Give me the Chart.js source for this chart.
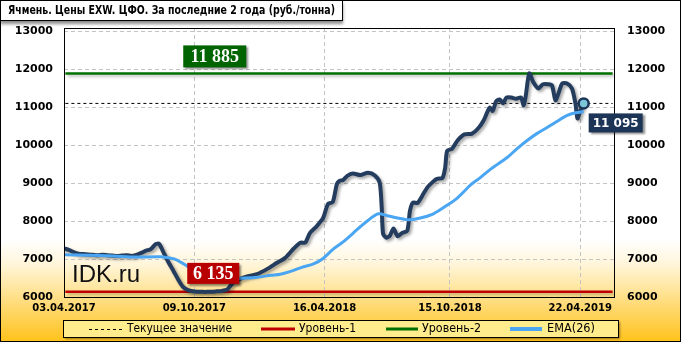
<!DOCTYPE html>
<html>
<head>
<meta charset="utf-8">
<script src="https://cdn.jsdelivr.net/npm/chart.js@4.4.0/dist/chart.umd.min.js"></script>
<style>
html, body { margin: 0; padding: 0; background: #fff; }
#wrap { width: 681px; height: 342px; }
</style>
</head>
<body>
<div id="wrap"><canvas id="grafico" width="681" height="342"></canvas></div>
<script>
// дни от 03.04.2017
const tickDays = [0, 189, 378, 560, 749];
const tickLabels = ['03.04.2017', '09.10.2017', '16.04.2018', '15.10.2018', '22.04.2019'];
const yTicks = [6000, 7000, 8000, 9000, 10000, 11000, 12000, 13000];

const priceDays = [0, 7, 14, 21, 28, 35, 42, 49, 56, 63, 70, 77, 84, 91, 98, 105, 112, 119, 126, 133, 138,
    145, 152, 159, 166, 173, 180, 187, 194, 201, 208, 215, 222, 229, 237, 245, 256, 267, 280, 295, 309,
    321, 333, 343, 350, 357, 367, 376, 383, 390, 396, 400, 405, 411, 419, 430, 441, 451, 458, 461, 463,
    468, 473, 478, 484, 491, 498, 502, 506, 513, 520, 527, 534, 541, 549, 553, 556, 563, 571, 581, 592,
    602, 609, 614, 618, 622, 627, 632, 637, 642, 649, 656, 663, 667, 670, 675, 681, 688, 695, 702, 708,
    713, 718, 723, 730, 737, 742, 745, 749, 754];
const price = [7280, 7240, 7180, 7140, 7130, 7120, 7110, 7100, 7110, 7100, 7090, 7080, 7090, 7100, 7080, 7110, 7160, 7220, 7260, 7390, 7400,
    7150, 6900, 6680, 6450, 6260, 6180, 6150, 6140, 6135, 6135, 6140, 6150, 6160, 6200, 6370, 6480, 6550, 6600, 6740, 6900,
    7030, 7270, 7430, 7430, 7690, 7870, 8080, 8450, 8500, 8980, 9060, 9080, 9190, 9250, 9210, 9270, 9200, 9010, 8350, 7660,
    7560, 7620, 7800, 7600, 7690, 7740, 8270, 8480, 8480, 8670, 8880, 9010, 9110, 9130, 9400, 9850, 9900, 10120, 10280, 10300,
    10460, 10650, 10860, 10990, 10900, 11150, 11200, 11100, 11250, 11250, 11220, 11250, 11040, 11300, 11885, 11650, 11490, 11600, 11600, 11570,
    11175, 11390, 11620, 11620, 11490, 11100, 10700, 10900, 11095];

const emaDays = [0, 35, 70, 105, 140, 160, 170, 180, 190, 200, 210, 220, 235, 250, 265, 280, 300, 314, 330, 345,
    362, 375, 391, 405, 420, 440, 456, 469, 484, 500, 517, 536, 553, 571, 590, 604, 620, 643, 657, 672,
    686, 701, 715, 730, 742, 754];
const ema = [7110, 7100, 7080, 7050, 7060, 7000, 6910, 6800, 6700, 6620, 6560, 6520, 6490, 6490, 6500, 6520, 6570, 6600, 6680, 6780,
    6870, 7000, 7265, 7450, 7690, 8000, 8190, 8140, 8080, 8030, 8080, 8190, 8380, 8610, 8950, 9140, 9380, 9670, 9900, 10120,
    10300, 10460, 10620, 10780, 10850, 10880];

const uroven1 = 6135;
const uroven2 = 11885;
const tekushee = 11095;
const lastDay = 754;

const tagDay = 218;

function pts(xs, ys) {
    return xs.map((d, i) => ({ x: d, y: ys[i] }));
}

function fitText(ctx, text, x, y, maxW) {
    let w = ctx.measureText(text).width;
    if (w > maxW) {
        ctx.save();
        ctx.translate(x, y);
        ctx.scale(maxW / w, 1);
        ctx.fillText(text, 0, 0);
        ctx.restore();
    } else {
        ctx.fillText(text, x, y);
    }
}

function drawTag(ctx, text, left, top, w, h, fill, font) {
    ctx.save();
    ctx.shadowColor = 'rgba(0,0,0,0.45)';
    ctx.shadowOffsetX = 2;
    ctx.shadowOffsetY = 2;
    ctx.shadowBlur = 2;
    ctx.fillStyle = fill;
    ctx.fillRect(left, top, w, h);
    ctx.restore();
    ctx.save();
    ctx.fillStyle = '#ffffff';
    ctx.font = font;
    ctx.textAlign = 'center';
    ctx.textBaseline = 'middle';
    ctx.fillText(text, left + w / 2, top + h / 2 + 1);
    ctx.restore();
}

const decor = {
    id: 'decor',
    beforeDraw(chart) {
        const ctx = chart.ctx;
        let g = ctx.createLinearGradient(0, 0, 0, 342);
        g.addColorStop(0, '#ffffff');
        g.addColorStop(240 / 342, '#ffffff');
        g.addColorStop(265 / 342, '#fff5d8');
        g.addColorStop(1, '#ffc21a');
        ctx.save();
        ctx.fillStyle = g;
        ctx.fillRect(0, 0, 681, 342);
        ctx.restore();
    },
    beforeDatasetsDraw(chart) {
        const ctx = chart.ctx;
        ctx.save();
        ctx.fillStyle = '#111';
        ctx.font = '24px "Liberation Sans"';
        ctx.textBaseline = 'alphabetic';
        ctx.fillText('IDK.ru', 72, 282);
        ctx.restore();
    },
    beforeDatasetDraw(chart, args) {
        const ds = chart.data.datasets[args.index];
        if (ds.shadow) {
            const ctx = chart.ctx;
            ctx.save();
            ctx.shadowColor = ds.shadow;
            ctx.shadowOffsetX = 2;
            ctx.shadowOffsetY = 2;
            ctx.shadowBlur = 3;
        }
    },
    afterDatasetDraw(chart, args) {
        const ds = chart.data.datasets[args.index];
        if (ds.shadow) chart.ctx.restore();
    },
    afterDraw(chart) {
        const ctx = chart.ctx;
        const a = chart.chartArea;
        const xs = chart.scales.x;
        const ys = chart.scales.y;

        // рамка графика
        ctx.save();
        ctx.strokeStyle = '#000';
        ctx.lineWidth = 1;
        ctx.strokeRect(Math.round(a.left) + 0.5, Math.round(a.top) + 0.5, Math.round(a.right - a.left), Math.round(a.bottom - a.top));
        ctx.restore();

        // метки уровней
        let cx = xs.getPixelForValue(tagDay);
        drawTag(ctx, '11 885', cx - 31, ys.getPixelForValue(uroven2) - 28, 63, 22, '#006400', 'bold 18px "Liberation Serif"');
        drawTag(ctx, '6 135', cx - 27, ys.getPixelForValue(uroven1) - 29, 52, 21, '#b80000', 'bold 18px "Liberation Serif"');
        drawTag(ctx, '11 095', xs.getPixelForValue(lastDay) + 5, ys.getPixelForValue(tekushee) + 10, 54, 19, '#1c3557', 'bold 12px "DejaVu Sans"');

        // заголовок
        ctx.save();
        ctx.shadowColor = 'rgba(0,0,0,0.45)';
        ctx.shadowOffsetY = 3;
        ctx.shadowBlur = 3;
        ctx.fillStyle = '#fff';
        ctx.fillRect(0, 0, 343, 21);
        ctx.restore();
        ctx.save();
        ctx.strokeStyle = '#000';
        ctx.strokeRect(0.5, 0.5, 342, 20);
        ctx.fillStyle = '#000';
        ctx.font = 'bold 13px "DejaVu Sans"';
        ctx.textBaseline = 'middle';
        fitText(ctx, 'Ячмень. Цены EXW. ЦФО. За последние 2 года (руб./тонна)', 8, 11, 327);
        ctx.restore();

        // легенда
        ctx.save();
        ctx.shadowColor = 'rgba(0,0,0,0.4)';
        ctx.shadowOffsetX = 2;
        ctx.shadowOffsetY = 2;
        ctx.shadowBlur = 2;
        ctx.fillStyle = '#ffec8c';
        ctx.fillRect(63, 320, 555, 17);
        ctx.restore();
        ctx.save();
        ctx.strokeStyle = '#000';
        ctx.strokeRect(63.5, 320.5, 555, 17);
        const ly = 329;
        ctx.lineWidth = 1;
        ctx.setLineDash([3, 3]);
        ctx.beginPath(); ctx.moveTo(89, ly + 0.5); ctx.lineTo(122, ly + 0.5); ctx.stroke();
        ctx.setLineDash([]);
        ctx.lineWidth = 3;
        ctx.strokeStyle = '#c00000';
        ctx.beginPath(); ctx.moveTo(261, ly); ctx.lineTo(295, ly); ctx.stroke();
        ctx.strokeStyle = '#007000';
        ctx.beginPath(); ctx.moveTo(386, ly); ctx.lineTo(418, ly); ctx.stroke();
        ctx.strokeStyle = '#4aa6f2';
        ctx.lineWidth = 4;
        ctx.beginPath(); ctx.moveTo(510, ly); ctx.lineTo(542, ly); ctx.stroke();
        ctx.fillStyle = '#000';
        ctx.font = '12px "DejaVu Sans"';
        ctx.textBaseline = 'middle';
        fitText(ctx, 'Текущее значение', 127, ly, 105);
        fitText(ctx, 'Уровень-1', 299, ly, 57);
        fitText(ctx, 'Уровень-2', 422, ly, 59);
        fitText(ctx, 'EMA(26)', 547, ly, 48);
        ctx.restore();

        // внешняя рамка
        ctx.save();
        ctx.strokeStyle = '#000';
        ctx.lineWidth = 1;
        ctx.strokeRect(0.5, 0.5, 680, 341);
        ctx.restore();
    }
};

const tickFont = { family: 'DejaVu Sans', size: 11, weight: 'bold' };

var ctx = document.getElementById('grafico').getContext('2d');

var myChart = new Chart(ctx, {
    type: 'line',
    data: {
        datasets: [
            {
                label: 'Текущее значение',
                data: [{ x: 2, y: tekushee }, { x: 796, y: tekushee }],
                borderColor: '#000',
                borderWidth: 1,
                borderDash: [3, 3],
                pointRadius: 0,
                order: 6
            },
            {
                label: 'Уровень-1',
                data: [{ x: 2, y: uroven1 }, { x: 796, y: uroven1 }],
                borderColor: '#c00000',
                borderWidth: 2.5,
                pointRadius: 0,
                shadow: 'rgba(0,0,0,0.25)',
                order: 5
            },
            {
                label: 'Уровень-2',
                data: [{ x: 2, y: uroven2 }, { x: 796, y: uroven2 }],
                borderColor: '#007000',
                borderWidth: 2.5,
                pointRadius: 0,
                shadow: 'rgba(0,0,0,0.25)',
                order: 4
            },
            {
                label: 'Цена',
                data: pts(priceDays, price),
                borderColor: '#243d5e',
                borderWidth: 4,
                tension: 0.25,
                pointRadius: 0,
                borderJoinStyle: 'round',
                borderCapStyle: 'round',
                shadow: 'rgba(0,0,0,0.35)',
                order: 3
            },
            {
                label: 'EMA(26)',
                data: pts(emaDays, ema),
                borderColor: '#4aa6f2',
                borderWidth: 3,
                tension: 0.3,
                pointRadius: 0,
                order: 2
            },
            {
                label: 'last',
                data: [{ x: lastDay, y: tekushee }],
                pointRadius: 5,
                pointBackgroundColor: '#7cc6d9',
                pointBorderColor: '#1c3557',
                pointBorderWidth: 2.5,
                showLine: false,
                order: 1
            }
        ]
    },
    plugins: [decor],
    options: {
        responsive: false,
        animation: false,
        devicePixelRatio: 1,
        layout: { padding: { top: 28, left: 0, right: 0, bottom: 0 } },
        plugins: {
            legend: { display: false },
            tooltip: { enabled: false }
        },
        scales: {
            x: {
                type: 'linear',
                min: 0,
                max: 798,
                afterBuildTicks: axis => { axis.ticks = tickDays.map(v => ({ value: v })); },
                afterFit: s => { s.height = 45; },
                grid: { color: '#c4c4c4', drawTicks: false },
                border: { display: false, dash: [4, 3] },
                ticks: {
                    autoSkip: false,
                    maxRotation: 0,
                    padding: 5,
                    color: '#000',
                    font: { family: 'DejaVu Sans', size: 10, weight: 'bold' },
                    callback: v => tickLabels[tickDays.indexOf(v)]
                }
            },
            y: {
                position: 'left',
                min: 6000,
                max: 13080,
                afterBuildTicks: axis => { axis.ticks = yTicks.map(v => ({ value: v })); },
                afterFit: s => { s.width = 64; },
                grid: { color: '#c4c4c4', drawTicks: false },
                border: { display: false, dash: [4, 3] },
                ticks: { padding: 11, color: '#000', font: tickFont, callback: v => String(v) }
            },
            y2: {
                position: 'right',
                min: 6000,
                max: 13080,
                afterBuildTicks: axis => { axis.ticks = yTicks.map(v => ({ value: v })); },
                afterFit: s => { s.width = 67; },
                grid: { display: false, drawTicks: false },
                border: { display: false },
                ticks: { padding: 13, color: '#000', font: tickFont, callback: v => String(v) }
            }
        }
    }
});
</script>
</body>
</html>
